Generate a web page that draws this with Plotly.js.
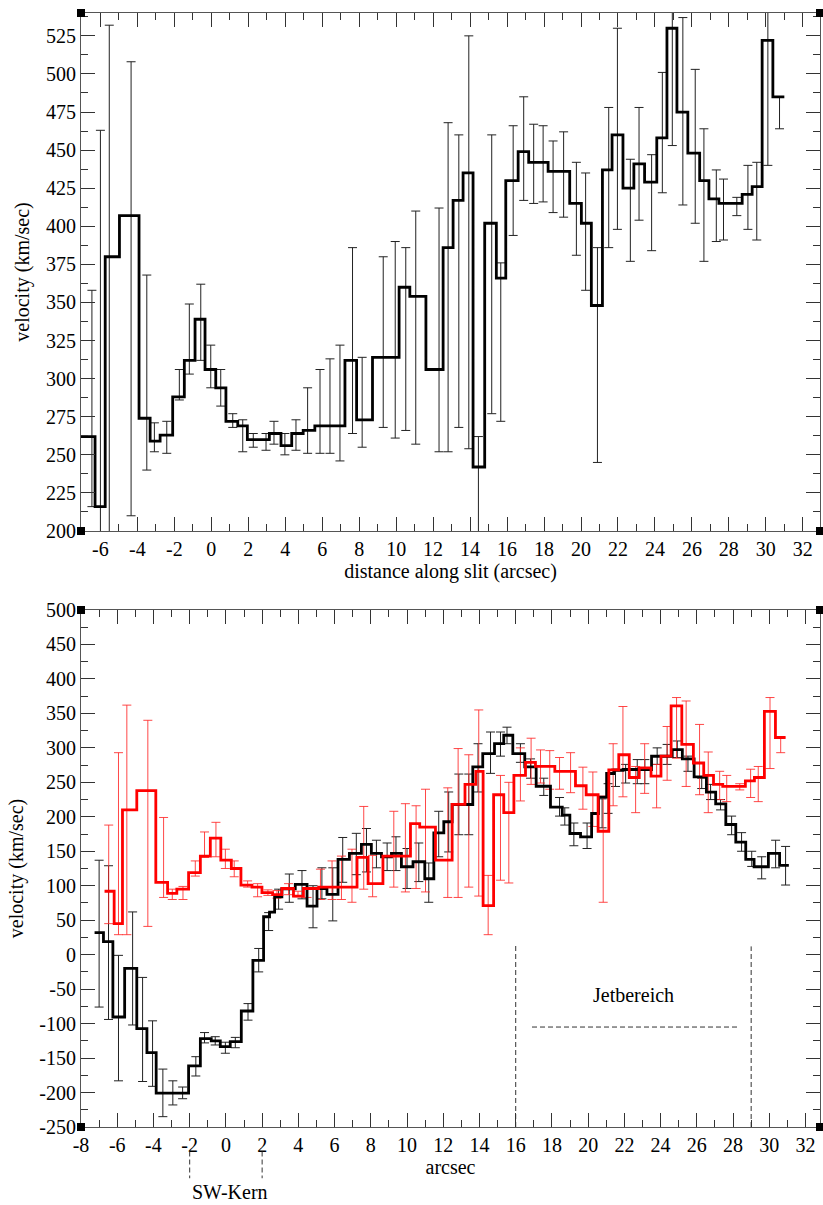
<!DOCTYPE html>
<html><head><meta charset="utf-8">
<script src="https://cdn.plot.ly/plotly-3.0.1.min.js"></script>
<style>html,body{margin:0;padding:0;background:#fff}#chart{width:823px;height:1205px}</style>
</head><body><div id="chart"></div>
<script>
// ---------- TOP PANEL ----------
const topEdges = [-7.05,-6.29,-5.74,-4.97,-3.91,-3.31,-2.77,-2.09,-1.46,-0.88,-0.34,0.24,0.79,1.43,1.95,2.55,3.14,3.77,4.35,4.97,5.6,6.15,6.7,7.23,7.86,8.72,9.62,10.16,10.74,11.61,12.54,13.08,13.62,14.16,14.79,15.42,15.93,16.6,17.17,17.7,18.22,18.8,19.39,20.02,20.56,21.16,21.68,22.27,22.86,23.44,24.1,24.65,25.19,25.78,26.42,26.92,27.46,28.1,28.72,29.26,29.8,30.38,31.0];
const topLevels = [262,216,380,407,274,259,263,288,312,339,306,294,272,269,260,260,264,256,264,266,269,269,269,312,273,314,314,360,354,306,386,417,435,242,402,366,430,449,442,442,436,436,415,402,348,437,460,425,441,429,458,530,475,448,430,418,415,415,421,426,522,485];
const topErrX = [-6.46,-6.0,-5.52,-4.34,-3.49,-3.08,-2.41,-1.73,-1.19,-0.57,-0.03,0.51,1.16,1.7,2.27,2.96,3.39,3.98,4.58,5.21,5.88,6.42,6.96,7.64,8.16,9.3,9.95,10.52,11.06,12.32,12.81,13.39,13.93,14.45,15.17,15.66,16.33,16.9,17.44,17.95,18.49,19.06,19.75,20.25,20.89,21.5,21.97,22.67,23.14,23.82,24.4,24.94,25.51,26.18,26.65,27.32,27.71,28.43,29.03,29.51,30.11,30.74];
const topErrHi = [358,463,532,508,368,271,272,306,349,362,322,306,277,273,264,264,272,264,273,294,306,313,322,386,314,380,390,386,410,412,468,460,525,262,460,376,466,485,467,466,456,462,442,435,386,478,530,444,478,447,501,560,537,503,464,437,431,419,440,442,560,485];
const topErrLo = [216,190,190,210,240,252,251,286,303,312,294,282,268,252,255,253,257,250,253,251,251,251,246,264,255,268,261,266,257,252,252,268,254,190,277,272,394,417,415,416,409,406,381,358,245,386,398,377,404,384,422,453,414,402,377,390,391,407,398,391,440,464];
const topXTicks = [-6,-4,-2,0,2,4,6,8,10,12,14,16,18,20,22,24,26,28,30,32];
const topYTicks = [200,225,250,275,300,325,350,375,400,425,450,475,500,525];

// ---------- BOTTOM PANEL: black ----------
const blkEdges = [-7.25,-6.76,-6.24,-5.59,-4.92,-4.36,-3.85,-2.06,-1.41,-0.81,-0.31,0.24,0.85,1.49,2.08,2.41,2.69,3.09,3.83,4.48,5.03,5.58,6.19,6.82,7.48,8.03,8.59,9.14,9.69,10.33,10.98,11.48,12.03,12.49,13.63,14.18,14.83,15.34,15.84,16.5,17.13,17.92,18.57,18.99,19.58,20.19,20.57,21.02,21.42,21.93,23.5,24.64,25.2,25.85,26.53,27.04,27.6,28.15,28.7,29.16,29.95,30.57,31.08];
const blkLevels = [31.9,18.8,-90.4,-19.9,-107.2,-142,-201,-161.4,-121.7,-125.2,-133.3,-126.1,-81.7,-8.3,55,61.7,84,95.6,101.9,70.4,96,87.4,138.1,146.8,159.9,146.8,142,146.8,127.5,134.8,110.1,176.8,192.8,217.8,272.5,291.7,306.2,318.3,291.7,272.5,244.3,213.9,202.3,175.8,171,204.8,228.4,262.8,267.5,268.6,287.8,297.5,284,258,235.7,218.8,188.8,163.2,138.1,127.5,146.8,129.4];
const blkErrX = [-7.0,-6.48,-5.93,-5.15,-4.6,-4.05,-3.48,-2.93,-2.39,-1.66,-1.18,-0.59,-0.03,0.52,1.22,1.81,2.36,2.91,3.5,4.2,4.81,5.3,5.9,6.45,7.2,7.76,8.31,8.9,9.39,10.0,10.65,11.2,11.75,12.3,12.86,13.41,13.92,14.61,15.16,15.52,16.26,16.82,17.55,18.42,18.71,19.21,19.94,20.77,21.1,21.51,22.07,22.71,23.13,23.81,24.36,24.92,25.51,26.27,26.76,27.31,27.92,28.47,29.03,29.58,30.35,30.9];
const blkErrHi = [137,129,-1,62,-33,-96,-166,-183,-192,-148,-113,-119,-127,-120,-71,9,61,95,117,122,100,126,126,170,176,183,166,162,171,154,162,133,208,236,262,262,306,323,323,330,306,284,256,228,213,191,191,226,248,269,276,283,283,300,305,310,288,256,247,225,201,177,150,142,166,157];
const blkErrLo = [-76,-94,-183,-102,-184,-191,-235,-218,-209,-176,-128,-131,-143,-135,-95,-25,35,66,76,81,39,81,49,105,116,120,126,122,122,96,106,76,142,149,174,174,236,263,288,306,279,256,231,201,188,158,154,184,205,244,249,248,248,276,276,286,266,241,225,210,174,150,128,110,126,101];

// ---------- BOTTOM PANEL: red ----------
const redEdges = [-6.7,-6.17,-5.71,-4.92,-3.87,-3.22,-2.71,-2.06,-1.41,-0.86,-0.28,0.30,0.83,1.44,1.99,2.58,3.09,3.73,4.28,5.12,7.24,7.85,8.67,10.19,10.7,11.57,12.49,13.2,13.8,14.2,14.78,15.34,15.9,16.54,17.09,18.16,19.3,19.89,20.55,21.14,21.69,22.27,22.82,23.47,24.02,24.58,25.17,25.81,26.38,26.92,27.43,28.68,29.18,29.73,30.34,30.9];
const redLevels = [92,45,210,238,105,89,95,119,143,169,137,125,101,98,90,87,96,85,96,98,141,103,143,190,185,137,218,247,266,71,232,206,260,279,273,266,245,232,179,268,290,257,271,259,288,361,305,278,260,247,244,252,257,353,315];
const redErrX = [-6.47,-5.93,-5.47,-4.31,-3.44,-2.96,-2.37,-1.69,-1.18,-0.55,-0.03,0.46,1.2,1.75,2.32,2.82,3.46,3.98,4.48,5.22,5.86,6.38,6.96,7.61,8.1,9.27,9.91,10.5,11.02,12.25,12.82,13.41,13.96,14.48,15.16,15.62,16.26,16.85,17.37,17.88,18.42,19.03,19.71,20.26,20.83,21.38,21.92,22.62,23.12,23.78,24.36,24.88,25.41,26.15,26.63,27.26,27.65,28.37,28.97,29.39,30.04,30.63];
const redErrHi = [188,293,362,340,199,95,99,136,178,192,153,136,107,103,94,93,103,92,97,124,136,143,153,215,144,208,219,216,240,242,299,290,355,115,260,250,300,314,297,296,286,293,272,265,230,306,360,273,306,276,331,373,368,334,294,266,260,248,269,273,373,315];
const redErrLo = [45,29,29,41,83,80,80,114,141,142,125,113,98,84,86,82,87,84,83,80,80,80,76,95,84,98,91,96,91,83,83,98,85,29,108,104,223,247,249,240,240,235,211,186,76,216,229,206,234,213,253,285,244,232,206,225,222,239,228,222,270,293];
const botXTicks = [-8,-6,-4,-2,0,2,4,6,8,10,12,14,16,18,20,22,24,26,28,30,32];
const botYTicks = [-250,-200,-150,-100,-50,0,50,100,150,200,250,300,350,400,450,500];

// ---------- annotation values ----------
const jetStart = 16, jetEnd = 29, jetTopA = 16, jetTopB = 12;
const jetArrowY = -105, jetArrowX0 = 16.9, jetArrowX1 = 28.3;
const swKernX = [-2, 2];

const FONT = '"Liberation Serif", serif';

function stepTrace(edges, levels, color, xa, ya) {
  return {x: edges, y: levels.concat([levels[levels.length-1]]), type:'scatter', mode:'lines',
    line:{shape:'hv', color:color, width:2.8}, xaxis:xa, yaxis:ya, hoverinfo:'skip', showlegend:false};
}
function errTrace(xs, hi, lo, color, xa, ya) {
  const mid = hi.map((h,i)=>(h+lo[i])/2);
  const half = hi.map((h,i)=>(h-lo[i])/2);
  return {x: xs, y: mid, type:'scatter', mode:'markers', marker:{size:1, opacity:0},
    error_y:{type:'data', symmetric:true, array:half, color:color, thickness:1, width:4.5},
    xaxis:xa, yaxis:ya, hoverinfo:'skip', showlegend:false};
}

const data = [
  errTrace(topErrX, topErrHi, topErrLo, '#222', 'x', 'y'),
  stepTrace(topEdges, topLevels, '#000', 'x', 'y'),
  errTrace(blkErrX, blkErrHi, blkErrLo, '#222', 'x2', 'y2'),
  errTrace(redErrX, redErrHi, redErrLo, 'rgba(255,40,40,0.85)', 'x2', 'y2'),
  stepTrace(blkEdges, blkLevels, '#000', 'x2', 'y2'),
  stepTrace(redEdges, redLevels, '#ff0000', 'x2', 'y2')
];

const axCommon = {showgrid:false, zeroline:false, showline:true, linecolor:'#555', linewidth:1,
  ticks:'inside', ticklen:14, tickwidth:1, tickcolor:'#333', mirror:'ticks', tickmode:'array',
  tickfont:{family:FONT, size:20, color:'#000'}};

function corner(xref, yref, xa, ya) {
  return {type:'rect', xref:xref, yref:yref, xsizemode:'pixel', ysizemode:'pixel',
    xanchor:xa, yanchor:ya, x0:-4, x1:4, y0:-4, y1:4, fillcolor:'#000', line:{width:0}};
}
const shapes = [];
[['x domain','y domain'],['x2 domain','y2 domain']].forEach(([xr,yr])=>{
  [[0,0],[1,0],[0,1],[1,1]].forEach(([a,b])=>shapes.push(corner(xr,yr,a,b)));
});
const dashStyle = {color:'#333', width:1, dash:'5px,3px'};
shapes.push({type:'line', xref:'x2', yref:'y2', x0:jetStart, x1:jetStart, y0:-250, y1:jetTopA, line:dashStyle});
shapes.push({type:'line', xref:'x2', yref:'y2', x0:jetEnd, x1:jetEnd, y0:-250, y1:jetTopB, line:dashStyle});
shapes.push({type:'line', xref:'x2', yref:'y2', x0:jetArrowX0, x1:jetArrowX1, y0:jetArrowY, y1:jetArrowY, line:dashStyle});
swKernX.forEach(v=>shapes.push({type:'line', xref:'x2', yref:'paper', x0:v, x1:v, y0:-0.022, y1:-0.046, line:dashStyle}));

const minorX = {ticks:'inside', ticklen:7, tickmode:'linear', dtick:1, tick0:0, tickcolor:'#333', tickwidth:1};

const layout = {
  width:823, height:1205, margin:{l:81, r:3, t:13, b:78},
  paper_bgcolor:'#fff', plot_bgcolor:'#fff', showlegend:false,
  font:{family:FONT, size:20, color:'#000'},
  xaxis: Object.assign({}, axCommon, {domain:[0,1], anchor:'y', range:[-7.05,32.93],
    tickvals:topXTicks, ticktext:topXTicks.map(String), minor:minorX,
    title:{text:'distance along slit (arcsec)', font:{family:FONT, size:20, color:'#000'}, standoff:4}}),
  yaxis: Object.assign({}, axCommon, {domain:[0.535,1], anchor:'x', range:[200,540],
    tickvals:topYTicks, ticktext:topYTicks.map(String),
    minor:{ticks:'inside', ticklen:7, tickmode:'linear', dtick:12.5, tick0:200, tickcolor:'#333', tickwidth:1},
    title:{text:'velocity (km/sec)', font:{family:FONT, size:20, color:'#000'}, standoff:10}}),
  xaxis2: Object.assign({}, axCommon, {domain:[0,1], anchor:'y2', range:[-8,32.8],
    tickvals:botXTicks, ticktext:botXTicks.map(String), minor:minorX,
    title:{text:'arcsec', font:{family:FONT, size:20, color:'#000'}, standoff:0}}),
  yaxis2: Object.assign({}, axCommon, {domain:[0,0.4641], anchor:'x2', range:[-250,500],
    tickvals:botYTicks, ticktext:botYTicks.map(String),
    minor:{ticks:'inside', ticklen:7, tickmode:'linear', dtick:25, tick0:0, tickcolor:'#333', tickwidth:1},
    title:{text:'velocity (km/sec)', font:{family:FONT, size:20, color:'#000'}, standoff:10}}),
  shapes: shapes,
  annotations: [
    {xref:'x2', yref:'y2', x:22.5, y:-58, text:'Jetbereich', showarrow:false, font:{family:FONT, size:20, color:'#000'}},
    {xref:'x2', yref:'paper', x:0.25, y:-0.0585, text:'SW-Kern', showarrow:false, font:{family:FONT, size:20, color:'#000'}, yanchor:'middle'}
  ]
};

Plotly.newPlot('chart', data, layout, {staticPlot:true, displayModeBar:false});
</script></body></html>
